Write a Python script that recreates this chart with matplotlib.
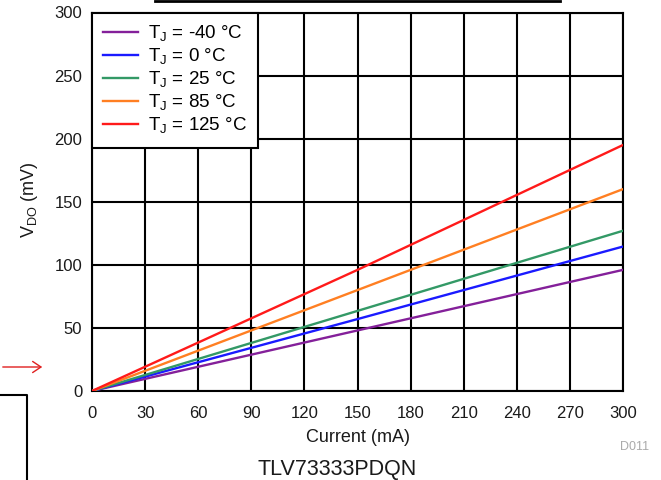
import matplotlib
matplotlib.use("Agg")
import matplotlib.pyplot as plt
from matplotlib.lines import Line2D
from matplotlib.patches import FancyArrowPatch

plt.rcParams['font.family'] = ['Liberation Sans', 'DejaVu Sans']

current = [0, 150, 300]
v_m40 = [0, 48, 96]
v_0 = [0, 57, 114.5]
v_25 = [0, 63.5, 127]
v_85 = [0, 80, 160]
v_125 = [0, 96, 195]

labels = ["T$_\\mathregular{J}$ = -40 °C", "T$_\\mathregular{J}$ = 0 °C",
          "T$_\\mathregular{J}$ = 25 °C", "T$_\\mathregular{J}$ = 85 °C",
          "T$_\\mathregular{J}$ = 125 °C"]
series = [v_m40, v_0, v_25, v_85, v_125]
colors = ["#84209A", "#1A1AFF", "#339966", "#FF7F22", "#FF1A1A"]

xticks = [0, 30, 60, 90, 120, 150, 180, 210, 240, 270, 300]
yticks = [0, 50, 100, 150, 200, 250, 300]

fig = plt.figure(figsize=(6.61, 4.80), dpi=100)
ax = fig.add_axes([92/661, 1-391/480, (623-92)/661, (391-12.5)/480])

for y, c, l in zip(series, colors, labels):
    ax.plot(current, y, color=c, lw=1.7, label=l, zorder=3)

ax.set_xlim(0, 300)
ax.set_ylim(0, 300)
ax.set_xticks(xticks)
ax.set_yticks(yticks)
ax.grid(True, color='black', lw=1.5, zorder=1)
ax.tick_params(axis='x', length=0, labelsize=12, pad=11, colors='#1a1a1a')
ax.tick_params(axis='y', length=0, labelsize=12, pad=7, colors='#1a1a1a')
for s in ax.spines.values():
    s.set_linewidth(1.5)
    s.set_color('black')

ax.set_xlabel("Current (mA)", fontsize=13, color='#1a1a1a', va='center')
ax.xaxis.set_label_coords(0.501, (391-437)/378.5)
ax.set_ylabel("V$_\\mathregular{DO}$ (mV)", fontsize=13, color='#1a1a1a', va='center')
ax.yaxis.set_label_coords((29-92)/531, 0.505)

leg = ax.legend(loc='upper left', fontsize=13.5, frameon=True, fancybox=False,
                edgecolor='black', framealpha=1, borderaxespad=0,
                handlelength=1.87, handletextpad=0.5, labelspacing=0.147,
                borderpad=0.6)
leg.get_frame().set_linewidth(1.5)
leg.set_zorder(5)

fig.text(635/661, 1-447/480, "D011", fontsize=9, color='#aaaaaa', ha='center', va='center')
fig.text(337/661, 1-469/480, "TLV73333PDQN", fontsize=15.5, color='#1a1a1a', ha='center', va='center')

# screenshot artifacts
fig.add_artist(Line2D([155/661, 560/661], [1-1/480, 1-1/480], color='black', lw=2))
fig.add_artist(Line2D([0, 27/661, 27/661], [1-395/480, 1-395/480, 0], color='black', lw=1.5))
fig.add_artist(FancyArrowPatch((0, 1-367/480), (45/661, 1-367/480), transform=fig.transFigure,
                               arrowstyle='->,head_length=6,head_width=4', color='#E02020', lw=1))

fig.savefig("out.png", dpi=100)
